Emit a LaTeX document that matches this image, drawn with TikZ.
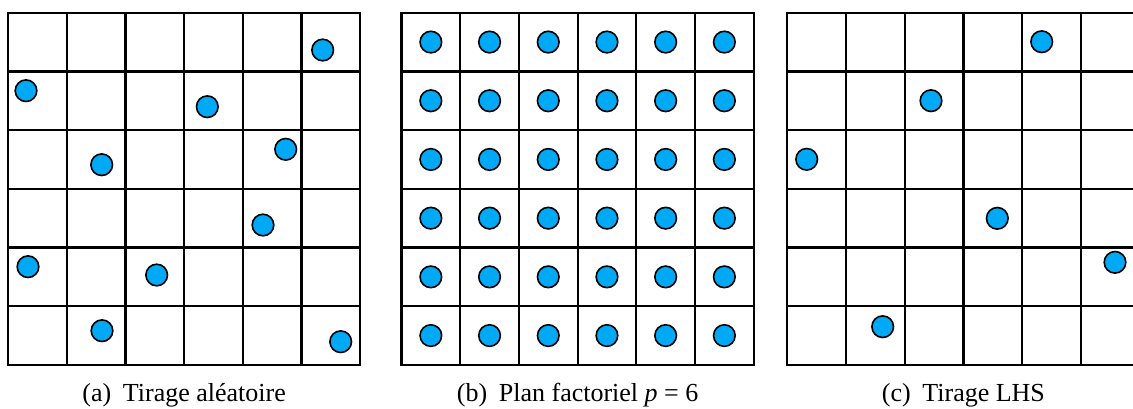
\documentclass[tikz,border=0pt]{standalone}
\usepackage{fontspec}
\setmainfont{Liberation Serif}
\definecolor{dotblue}{RGB}{0,169,245}
\begin{document}
\begin{tikzpicture}[x=1bp,y=-1bp,
  gridline/.style={line width=2.2bp,black,line cap=rect},
  dot/.style={circle,draw=black,line width=1.6bp,fill=dotblue,minimum size=21.6bp,inner sep=0pt},
  captext/.style={anchor=base,font=\fontsize{26bp}{30bp}\selectfont,inner sep=0pt}]
\useasboundingbox (0,0) rectangle (1133,408);
\clip (0,0) rectangle (1133,408);
\fill[white] (0,0) rectangle (1133,408);
% grids
\foreach \gx in {8,401.5,787.3}{
  \foreach \i in {0,...,6}{
    \draw[gridline] ({\gx+\i*58.7},12.7) -- ({\gx+\i*58.7},364.9);
    \draw[gridline] (\gx,{12.7+\i*58.7}) -- ({\gx+352.2},{12.7+\i*58.7});
  }
}
% (a) random draw
\node[dot] (a1) at (322.7,50) {};
\node[dot] (a2) at (26,90.7) {};
\node[dot] (a3) at (207.3,106.7) {};
\node[dot] (a4) at (101.7,164.7) {};
\node[dot] (a5) at (285.7,149.3) {};
\node[dot] (a6) at (263,225) {};
\node[dot] (a7) at (28,266.7) {};
\node[dot] (a8) at (156.7,275) {};
\node[dot] (a9) at (102,330.7) {};
\node[dot] (a10) at (340.7,341.7) {};
% (b) factorial plan
\foreach \i in {0,...,5}{
  \foreach \j in {0,...,5}{
    \node[dot] (b\i\j) at ({401.5+29.35+\i*58.7},{12.7+29.35+\j*58.7}) {};
  }
}
% (c) LHS
\node[dot] (c1) at (1041.7,41.7) {};
\node[dot] (c2) at (931,100.7) {};
\node[dot] (c3) at (806.7,159.3) {};
\node[dot] (c4) at (997.3,218.3) {};
\node[dot] (c5) at (1115,262.3) {};
\node[dot] (c6) at (882.7,326.7) {};
% captions
\node[captext] (capa) at (184.1,401) {(a)\hspace{0.45em}Tirage aléatoire};
\node[captext] (capb) at (577.6,401) {(b)\hspace{0.45em}Plan factoriel \textit{p} = 6};
\node[captext] (capc) at (963.4,401) {(c)\hspace{0.45em}Tirage LHS};
\end{tikzpicture}
\end{document}
